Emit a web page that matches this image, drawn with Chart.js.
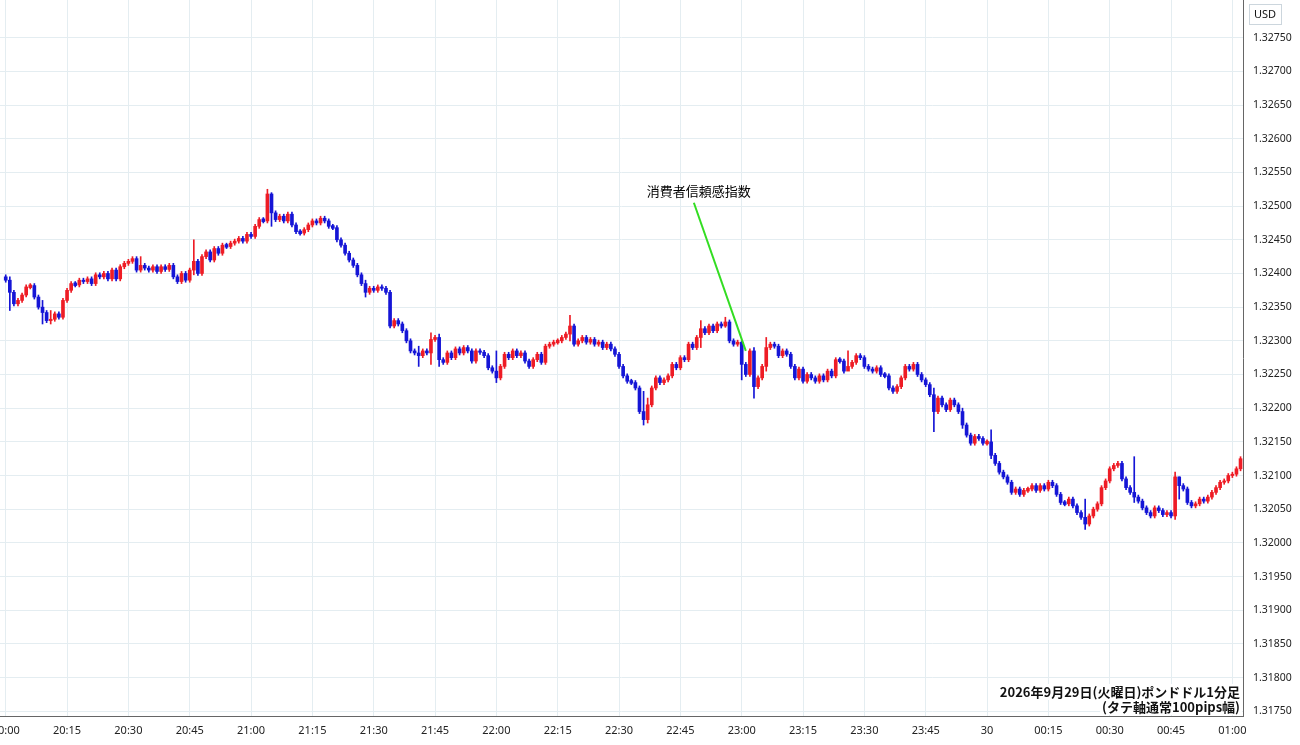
<!DOCTYPE html>
<html lang="ja">
<head>
<meta charset="UTF-8">
<title>ポンドドル1分足</title>
<style>
  body { margin: 0; background: #fff; }
  #wrap { width: 1300px; height: 745px; }
</style>
</head>
<body>
<div id="wrap"><canvas id="chart" width="1300" height="745"></canvas></div>
<script src="https://cdn.jsdelivr.net/npm/chart.js"></script>
<script>
// 1-minute closes from 20:00 onward
const closes = [
  1.32390, 1.32372, 1.32355, 1.32360, 1.32368, 1.32380, 1.32382, 1.32365, 1.32350, 1.32342,
  1.32330, 1.32332, 1.32340, 1.32335, 1.32360, 1.32375, 1.32385, 1.32383, 1.32390, 1.32388,
  1.32392, 1.32385, 1.32398, 1.32395, 1.32400, 1.32392, 1.32405, 1.32392, 1.32410, 1.32415,
  1.32418, 1.32422, 1.32405, 1.32412, 1.32408, 1.32405, 1.32410, 1.32403, 1.32410, 1.32406,
  1.32412, 1.32395, 1.32388, 1.32400, 1.32390, 1.32405, 1.32418, 1.32400, 1.32425, 1.32432,
  1.32420, 1.32437, 1.32430, 1.32442, 1.32440, 1.32445, 1.32448, 1.32452, 1.32448, 1.32458,
  1.32455, 1.32470, 1.32480, 1.32478, 1.32518, 1.32490, 1.32480, 1.32485, 1.32478, 1.32488,
  1.32472, 1.32462, 1.32460, 1.32465, 1.32472, 1.32478, 1.32475, 1.32482, 1.32478, 1.32470,
  1.32468, 1.32450, 1.32442, 1.32430, 1.32420, 1.32412, 1.32398, 1.32385, 1.32372, 1.32378,
  1.32375, 1.32380, 1.32378, 1.32372, 1.32322, 1.32330, 1.32325, 1.32315, 1.32300, 1.32285,
  1.32282, 1.32278, 1.32285, 1.32282, 1.32302, 1.32305, 1.32272, 1.32268, 1.32282, 1.32275,
  1.32288, 1.32282, 1.32290, 1.32285, 1.32270, 1.32285, 1.32283, 1.32278, 1.32260, 1.32255,
  1.32245, 1.32262, 1.32280, 1.32275, 1.32285, 1.32278, 1.32282, 1.32270, 1.32262, 1.32272,
  1.32280, 1.32268, 1.32292, 1.32295, 1.32298, 1.32300, 1.32305, 1.32310, 1.32322, 1.32295,
  1.32300, 1.32305, 1.32298, 1.32302, 1.32295, 1.32298, 1.32290, 1.32295, 1.32288, 1.32280,
  1.32262, 1.32248, 1.32240, 1.32238, 1.32230, 1.32195, 1.32183, 1.32205, 1.32230, 1.32245,
  1.32238, 1.32242, 1.32248, 1.32265, 1.32260, 1.32275, 1.32272, 1.32295, 1.32290, 1.32305,
  1.32318, 1.32312, 1.32322, 1.32315, 1.32325, 1.32322, 1.32328, 1.32300, 1.32295, 1.32298,
  1.32265, 1.32250, 1.32285, 1.32232, 1.32245, 1.32262, 1.32290, 1.32295, 1.32292, 1.32278,
  1.32285, 1.32280, 1.32262, 1.32245, 1.32258, 1.32240, 1.32250, 1.32245, 1.32240, 1.32248,
  1.32242, 1.32255, 1.32248, 1.32272, 1.32270, 1.32255, 1.32262, 1.32268, 1.32278, 1.32275,
  1.32262, 1.32258, 1.32255, 1.32260, 1.32250, 1.32248, 1.32230, 1.32225, 1.32232, 1.32245,
  1.32262, 1.32258, 1.32265, 1.32250, 1.32242, 1.32235, 1.32220, 1.32195, 1.32215, 1.32205,
  1.32198, 1.32212, 1.32205, 1.32195, 1.32175, 1.32160, 1.32148, 1.32158, 1.32155, 1.32148,
  1.32150, 1.32130, 1.32118, 1.32105, 1.32098, 1.32090, 1.32075, 1.32080, 1.32072, 1.32078,
  1.32080, 1.32085, 1.32078, 1.32085, 1.32080, 1.32090, 1.32085, 1.32072, 1.32060, 1.32058,
  1.32065, 1.32055, 1.32045, 1.32038, 1.32028, 1.32040, 1.32050, 1.32058, 1.32082, 1.32092,
  1.32110, 1.32115, 1.32118, 1.32095, 1.32082, 1.32075, 1.32068, 1.32062, 1.32052, 1.32045,
  1.32040, 1.32052, 1.32048, 1.32042, 1.32045, 1.32040, 1.32098, 1.32085, 1.32080, 1.32060,
  1.32055, 1.32058, 1.32065, 1.32062, 1.32068, 1.32075, 1.32082, 1.32090, 1.32092, 1.32100,
  1.32102, 1.32110, 1.32125
];
const firstOpen = 1.32395;
// notable wicks: index -> [high, low]
const bigWicks = {
  1: [1.32395, 1.32345], 9: [1.32360, 1.32325], 11: [1.32345, 1.32325],
  33: [1.32425, 1.32402], 46: [1.32450, 1.32398], 64: [1.32525, 1.32475],
  65: [1.32520, 1.32470], 88: [1.32390, 1.32365], 101: [1.32292, 1.32262],
  104: [1.32312, 1.32265], 106: [1.32310, 1.32262], 120: [1.32285, 1.32238],
  138: [1.32338, 1.32300], 156: [1.32225, 1.32175], 157: [1.32215, 1.32178],
  170: [1.32330, 1.32290], 176: [1.32335, 1.32320], 180: [1.32300, 1.32242],
  183: [1.32290, 1.32215], 186: [1.32305, 1.32255], 206: [1.32285, 1.32258],
  227: [1.32230, 1.32165], 234: [1.32200, 1.32170], 241: [1.32168, 1.32125],
  264: [1.32065, 1.32020], 276: [1.32128, 1.32060], 286: [1.32105, 1.32035],
  287: [1.32098, 1.32065]
};
const tickLabels = ['20:00', '20:15', '20:30', '20:45', '21:00', '21:15', '21:30', '21:45',
  '22:00', '22:15', '22:30', '22:45', '23:00', '23:15', '23:30', '23:45', '30',
  '00:15', '00:30', '00:45', '01:00'];
const noteText = '消費者信頼感指数';
const captionLines = ['2026年9月29日(火曜日)ポンドドル1分足', '(タテ軸通常100pips幅)'];

const UP = '#ee1c25', DOWN = '#1515d6';
const wickData = [], bodyData = [], colors = [];
closes.forEach((c, i) => {
  const o = i === 0 ? firstOpen : closes[i - 1];
  const w = bigWicks[i];
  const hi = w ? w[0] : Math.max(o, c) + 0.00003;
  const lo = w ? w[1] : Math.min(o, c) - 0.00003;
  let top = c, bot = o;
  if (Math.abs(c - o) < 0.00002) { top = Math.max(o, c) + 0.00001; bot = Math.min(o, c) - 0.00001; }
  wickData.push({ x: i, y: [lo, hi] });
  bodyData.push({ x: i, y: [bot, top] });
  colors.push(c >= o ? UP : DOWN);
});

const annotate = {
  id: 'annotate',
  afterDatasetsDraw(chart) {
    const { ctx, scales: { x, y }, chartArea } = chart;
    ctx.save();
    ctx.strokeStyle = '#33dd22';
    ctx.lineWidth = 2;
    ctx.beginPath();
    ctx.moveTo(x.getPixelForValue(168.3), y.getPixelForValue(1.32505));
    ctx.lineTo(x.getPixelForValue(181), y.getPixelForValue(1.32285));
    ctx.stroke();
    ctx.fillStyle = '#000';
    ctx.font = '13px "Noto Sans CJK JP"';
    ctx.textAlign = 'center';
    ctx.textBaseline = 'middle';
    ctx.fillText(noteText, x.getPixelForValue(169.5), y.getPixelForValue(1.32522));
    // caption
    ctx.font = 'bold 13px "Noto Sans CJK JP"';
    ctx.textAlign = 'right';
    const rx = chartArea.right - 3;
    captionLines.forEach((t, k) => {
      const ty = chartArea.bottom - 24 + k * 15;
      const tw = ctx.measureText(t).width;
      ctx.fillStyle = '#fff';
      ctx.fillRect(rx - tw - 2, ty - 8, tw + 4, 16);
      ctx.fillStyle = '#111';
      ctx.fillText(t, rx, ty);
    });
    // USD box
    ctx.font = '11px "Noto Sans"';
    ctx.textAlign = 'center';
    ctx.strokeStyle = '#ccd6dd';
    ctx.lineWidth = 1;
    ctx.strokeRect(chartArea.right + 6.5, 4.5, 32, 20);
    ctx.fillStyle = '#111';
    ctx.fillText('USD', chartArea.right + 22, 15);
    ctx.restore();
  }
};

new Chart(document.getElementById('chart'), {
  type: 'bar',
  data: {
    datasets: [
      { data: wickData, backgroundColor: colors, barThickness: 1, grouped: false, order: 2 },
      { data: bodyData, backgroundColor: colors, barThickness: 3, grouped: false, order: 1 }
    ]
  },
  options: {
    responsive: false,
    animation: false,
    layout: { padding: 0 },
    plugins: { legend: { display: false }, tooltip: { enabled: false } },
    scales: {
      x: {
        type: 'linear',
        min: -1.4,
        max: 302.6,
        offset: false,
        grid: { color: '#e4edf1', drawTicks: false, offset: false },
        border: { color: '#666' },
        afterBuildTicks(axis) {
          axis.ticks = tickLabels.map((_, k) => ({ value: k * 15 }));
        },
        afterFit(axis) { axis.height = 29; axis.paddingLeft = 0; axis.paddingRight = 0; },
        ticks: {
          autoSkip: false,
          maxRotation: 0,
          padding: 8,
          color: '#222',
          font: { size: 11, family: '"Noto Sans"' },
          callback: (v) => tickLabels[Math.round(v / 15)]
        }
      },
      y: {
        position: 'right',
        min: 1.31743,
        max: 1.32806,
        grid: { color: '#e4edf1', drawTicks: false },
        border: { color: '#666' },
        afterBuildTicks(axis) {
          const t = [];
          for (let k = 0; k <= 20; k++) t.push({ value: 1.3175 + k * 0.0005 });
          axis.ticks = t;
        },
        afterFit(axis) { axis.width = 57; axis.paddingTop = 0; axis.paddingBottom = 0; },
        ticks: {
          padding: 10,
          color: '#222',
          font: { size: 10.5, family: '"Noto Sans"' },
          callback: (v) => v.toFixed(5)
        }
      }
    }
  },
  plugins: [annotate]
});
</script>
</body>
</html>
